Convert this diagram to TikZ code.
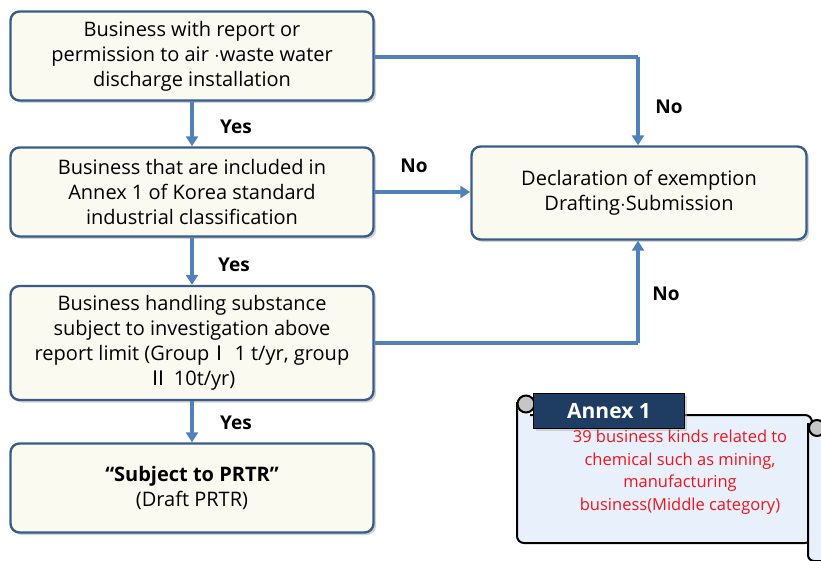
\documentclass[tikz,border=0pt]{standalone}
\usepackage{fontspec}
\setmainfont{Open Sans}
\newfontfamily\cjk{Noto Sans CJK KR}
\usetikzlibrary{shadows,arrows.meta}
\definecolor{boxfill}{HTML}{FBFAF0}
\definecolor{boxline}{HTML}{385D8A}
\definecolor{arrowblue}{HTML}{4F81BD}
\definecolor{navy}{HTML}{1F3D63}
\definecolor{scrollfill}{HTML}{E8F1FB}
\definecolor{annexred}{HTML}{F0141E}
\tikzset{
  stepbox/.style={draw=boxline,line width=2.4pt,fill=boxfill,rounded corners=9pt,
    minimum width=363pt,minimum height=89pt,align=center,
    font=\fontsize{20}{25}\selectfont,
    drop shadow={shadow xshift=2.5pt,shadow yshift=-2.5pt,fill=gray!70}},
  flow/.style={draw=arrowblue,line width=3.2pt,-{Triangle[length=10pt,width=12pt]}},
  flowline/.style={draw=arrowblue,line width=3.2pt},
  answer/.style={font=\bfseries\fontsize{19}{20}\selectfont}
}
\begin{document}
\begin{tikzpicture}[x=1pt,y=-1pt]
	\useasboundingbox (0,0) rectangle (821,561);

	% flow boxes
	\node[stepbox] (report) at (192,56){Business with report or\\permission to air $\cdot$waste water\\discharge installation};
	\node[stepbox] (annex) at (192,192){Business that are included in\\Annex 1 of Korea standard\\industrial classification};
	\node[stepbox,minimum height=114pt] (limit) at (192,343){Business handling substance\\subject to investigation above\\report limit (Group{\cjk Ⅰ} 1 t/yr, group\\{\cjk Ⅱ} 10t/yr)};
	\node[stepbox] (prtr) at (192,488){{\bfseries ``Subject to PRTR''}\\(Draft PRTR)};
	\node[stepbox,minimum width=335pt,minimum height=93pt] (exempt) at (639,193){Declaration of exemption\\Drafting$\cdot$Submission};

	% yes
	\draw[flow] (report) -- (annex);
	\draw[flow] (annex) -- (limit);
	\draw[flow] (limit) -- (prtr);
	\node[answer] (yes1) at (236,127){Yes};
	\node[answer] (yes2) at (234,265){Yes};
	\node[answer] (yes3) at (236,423){Yes};

	% no
	\coordinate (c1) at (638,57);
	\coordinate (c3) at (638,343);
	\draw[flowline] (report.east |- c1) -- (c1);
	\draw[flow] (c1) -- (exempt.north -| c1);
	\draw[flow] (annex.east) -- (exempt.west |- annex.east);
	\draw[flowline] (limit.east |- c3) -- (c3);
	\draw[flow] (c3) -- (exempt.south -| c3);
	\node[answer] (no1) at (669,107){No};
	\node[answer] (no2) at (414,166){No};
	\node[answer] (no3) at (666,294){No};

	% annex 1 scroll
	\draw[line width=2pt,fill=scrollfill,rounded corners=7pt] (517,402) -- (517,543) -- (812,543) -- (812,415) -- (530,415);
	\draw[line width=2pt,fill=scrollfill,rounded corners=6pt] (808,423) -- (808,561) -- (830,561) -- (830,423);
	\draw[line width=2pt,fill=gray!45] (817,428) circle (8pt);
	\draw[line width=2pt,fill=gray!45] (526,404) circle (8.5pt);
	\node[draw=black,line width=1.6pt,fill=navy,text=white,minimum width=151pt,minimum height=35pt,
	  font=\bfseries\fontsize{21}{22}\selectfont,
	  drop shadow={shadow xshift=2pt,shadow yshift=-2pt,fill=gray!60}] (title) at (609,411){Annex 1};
	\node[text=annexred,align=center,font=\fontsize{16.5}{22.5}\selectfont] (kinds) at (680,472){39 business kinds related to\\chemical such as mining,\\manufacturing\\business(Middle category)};
\end{tikzpicture}
\end{document}
